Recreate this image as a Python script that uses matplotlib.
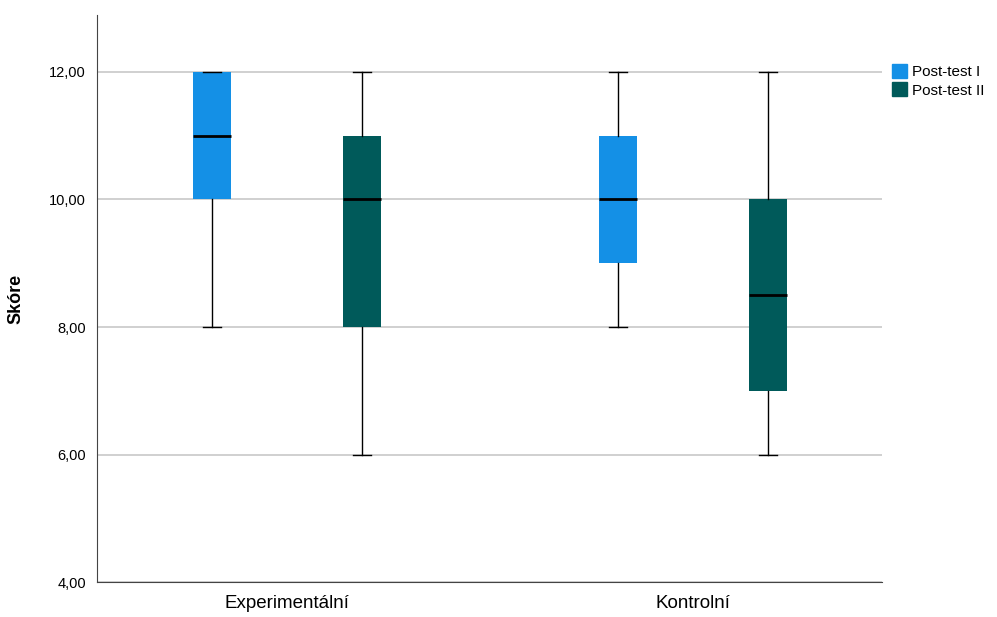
import matplotlib
matplotlib.use("Agg")
import matplotlib.pyplot as plt
from matplotlib.patches import Patch

plt.rcParams['font.family'] = ['Liberation Sans', 'DejaVu Sans']

groups = ['Experimentální', 'Kontrolní']
series = ['Post-test I', 'Post-test II']
colors = ['#1490e6', '#005a5a']

# box stats per series: [Experimentální, Kontrolní]
whislo = [[8, 8], [6, 6]]
q1 = [[10, 9], [8, 7]]
med = [[11, 10], [10, 8.5]]
q3 = [[12, 11], [11, 10]]
whishi = [[12, 12], [12, 12]]

fig = plt.figure(figsize=(9.97, 6.17), dpi=100)
ax = fig.add_axes([0.0973, 0.0567, 0.7874, 0.919])

offsets = [-0.185, 0.185]
for s in range(len(series)):
    stats = []
    for g in range(len(groups)):
        stats.append(dict(whislo=whislo[s][g], q1=q1[s][g], med=med[s][g],
                          q3=q3[s][g], whishi=whishi[s][g], fliers=[]))
    pos = [g + offsets[s] for g in range(len(groups))]
    ax.bxp(stats, positions=pos, widths=0.092, patch_artist=True,
           showfliers=False, capwidths=0.045,
           boxprops=dict(facecolor=colors[s], edgecolor=colors[s], linewidth=0),
           medianprops=dict(color='black', linewidth=2),
           whiskerprops=dict(color='black', linewidth=1),
           capprops=dict(color='black', linewidth=1),
           manage_ticks=False)

ax.set_xlim(-0.468, 1.4655)
ax.set_ylim(4, 12.894)
ax.set_yticks([4, 6, 8, 10, 12])
ax.set_yticklabels(['4,00', '6,00', '8,00', '10,00', '12,00'], fontsize=10.5)
ax.set_xticks(range(len(groups)))
ax.set_xticklabels(groups, fontsize=13.5)
ax.tick_params(axis='y', length=0, pad=8)
ax.tick_params(axis='x', length=0, pad=9)
ax.yaxis.grid(True, color='#c8c8c8', linewidth=1.2)
ax.set_axisbelow(True)
for sp in ['top', 'right']:
    ax.spines[sp].set_visible(False)
for sp in ['left', 'bottom']:
    ax.spines[sp].set_color('#444444')
ax.set_ylabel('Skóre', fontsize=13, fontweight='bold', labelpad=18)

handles = [Patch(facecolor=c, edgecolor=c) for c in colors]
fig.legend(handles, series, loc='upper left', bbox_to_anchor=(0.881, 0.918),
           frameon=False, fontsize=11, handlelength=1.0, handleheight=1.0,
           handletextpad=0.3, labelspacing=0.2)

fig.savefig('out.png', dpi=100)
